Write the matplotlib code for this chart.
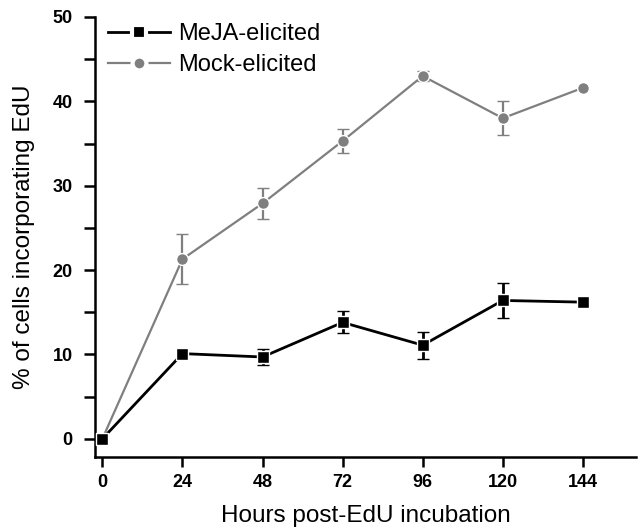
import matplotlib
matplotlib.use("Agg")
import matplotlib.pyplot as plt
from matplotlib.lines import Line2D
from matplotlib.ticker import MultipleLocator

plt.rcParams['font.family'] = ['Liberation Sans', 'DejaVu Sans']

# data
hours = [0, 24, 48, 72, 96, 120, 144]
meja = [0.0, 10.1, 9.7, 13.8, 11.1, 16.4, 16.2]
meja_err = [0.0, 0.4, 0.9, 1.3, 1.6, 2.1, 0.0]
mock = [0.0, 21.3, 27.9, 35.3, 43.0, 38.0, 41.6]
mock_err = [0.0, 3.0, 1.8, 1.4, 0.6, 2.0, 0.0]

gray = "#7f7f7f"

fig = plt.figure(figsize=(6.42, 5.30), dpi=100)
ax = fig.add_axes([0.148, 0.137, 0.843, 0.831])

ax.errorbar(hours, mock, yerr=mock_err, color=gray, lw=1.6, marker="o", ms=8.5,
            mec="white", mew=1.0, capsize=4, capthick=1.6, elinewidth=1.6, zorder=2)
ax.errorbar(hours, meja, yerr=meja_err, color="black", lw=2.0, marker="s", ms=8.5,
            mec="white", mew=1.0, capsize=4, capthick=2.0, elinewidth=2.0, zorder=3)

ax.set_xlim(-2.2, 160)
ax.set_ylim(-2.2, 50)
ax.set_xticks(hours)
ax.yaxis.set_major_locator(MultipleLocator(10))
ax.yaxis.set_minor_locator(MultipleLocator(5))

for s in ["top", "right"]:
    ax.spines[s].set_visible(False)
for s in ["left", "bottom"]:
    ax.spines[s].set_linewidth(1.8)
ax.spines["left"].set_bounds(-2.2, 50)

ax.tick_params(axis="x", which="major", length=7, width=1.8, labelsize=13, pad=5)
ax.tick_params(axis="y", which="major", length=8, width=1.8, labelsize=13, pad=8)
ax.tick_params(axis="y", which="minor", length=8, width=1.8)
for lab in ax.get_xticklabels() + ax.get_yticklabels():
    lab.set_fontweight("bold")

ax.set_xlabel("Hours post-EdU incubation", fontsize=17.5, labelpad=10)
ax.set_ylabel("% of cells incorporating EdU", fontsize=17.5, labelpad=13)

handles = [
    Line2D([], [], color="black", lw=2.0, marker="s", ms=10, mec="white", mew=3.0),
    Line2D([], [], color=gray, lw=1.6, marker="o", ms=10, mec="white", mew=3.0),
]
ax.legend(handles, ["MeJA-elicited", "Mock-elicited"], loc="upper left",
          bbox_to_anchor=(-0.015, 1.035), frameon=False, fontsize=17,
          handlelength=2.6, handletextpad=0.35, labelspacing=0.4)

fig.savefig("out.png", dpi=100)
